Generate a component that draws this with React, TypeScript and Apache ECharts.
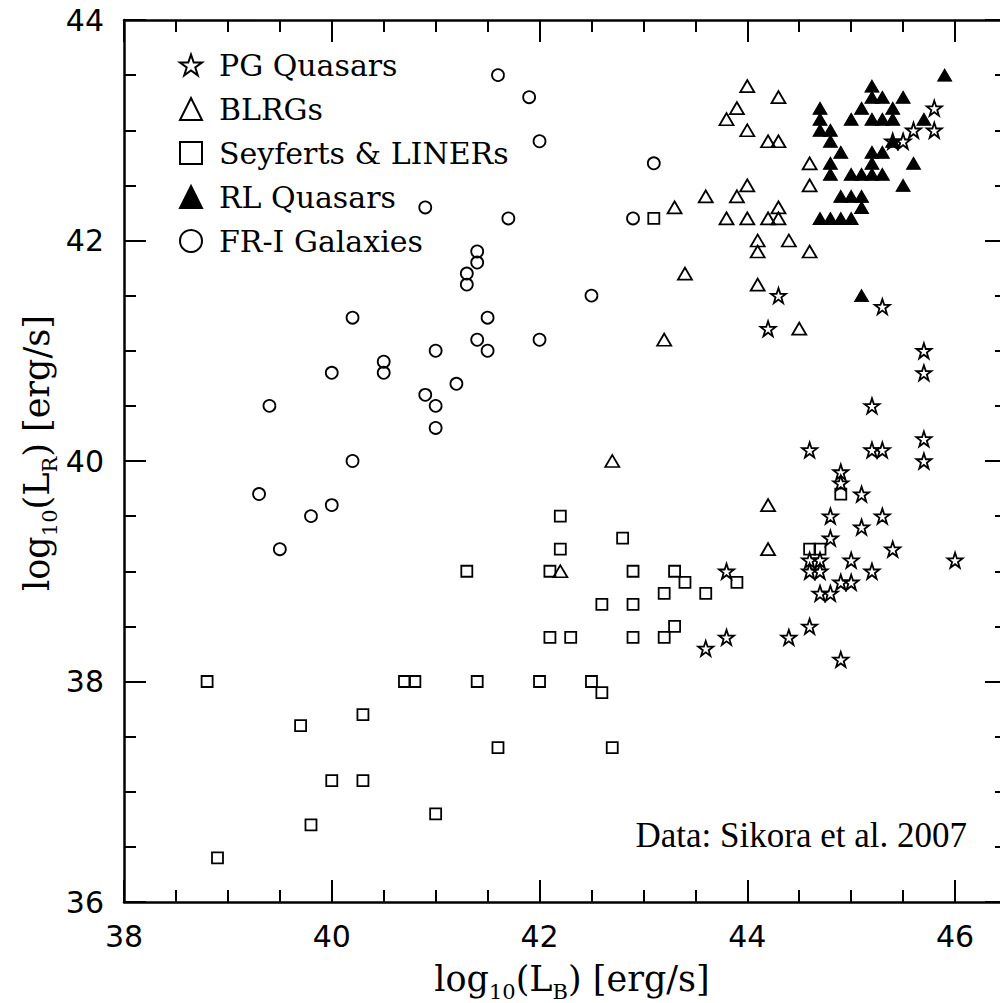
import { useEffect, useRef } from "react";
import * as echarts from "echarts";

// ---- data (log10 L_B, log10 L_R) ----
const pgQuasars: [number, number][] = [
  [45.8, 43.2], [45.6, 43.0], [45.8, 43.0], [45.5, 42.9], [45.4, 42.9],
  [44.3, 41.5], [45.3, 41.4], [44.2, 41.2], [45.7, 41.0], [45.7, 40.8],
  [45.2, 40.5], [45.7, 40.2], [45.7, 40.0], [44.6, 40.1], [45.2, 40.1],
  [45.3, 40.1], [44.9, 39.9], [44.9, 39.8], [45.1, 39.7], [44.8, 39.5],
  [45.3, 39.5], [45.1, 39.4], [44.8, 39.3], [45.4, 39.2], [46.0, 39.1],
  [44.6, 39.1], [44.7, 39.1], [45.0, 39.1], [44.6, 39.0], [44.7, 39.0],
  [45.2, 39.0], [44.9, 38.9], [45.0, 38.9], [44.7, 38.8], [44.8, 38.8],
  [44.6, 38.5], [44.4, 38.4], [44.9, 38.2], [43.8, 39.0], [43.8, 38.4],
  [43.6, 38.3],
];

const blrgs: [number, number][] = [
  [44.0, 43.4], [43.9, 43.2], [43.8, 43.1], [44.0, 43.0], [44.3, 43.3],
  [44.2, 42.9], [44.3, 42.9], [44.0, 42.5], [43.6, 42.4], [43.9, 42.4],
  [43.3, 42.3], [43.8, 42.2], [44.0, 42.2], [44.2, 42.2], [44.3, 42.2],
  [44.3, 42.3], [44.1, 42.0], [44.1, 41.9], [43.4, 41.7], [44.1, 41.6],
  [43.2, 41.1], [42.7, 40.0], [44.6, 42.7], [44.6, 42.5], [44.4, 42.0],
  [44.6, 41.9], [44.5, 41.2], [44.2, 39.6], [44.2, 39.2], [42.2, 39.0],
];

const seyfertsLiners: [number, number][] = [
  [38.8, 38.0], [38.9, 36.4], [39.7, 37.6], [39.8, 36.7], [40.0, 37.1],
  [40.3, 37.1], [40.3, 37.7], [40.7, 38.0], [40.8, 38.0], [41.0, 36.8],
  [41.3, 39.0], [42.2, 39.5], [42.2, 39.2], [42.1, 39.0], [42.8, 39.3],
  [42.9, 39.0], [43.3, 39.0], [43.4, 38.9], [43.2, 38.8], [43.6, 38.8],
  [43.9, 38.9], [42.6, 38.7], [42.9, 38.7], [42.1, 38.4], [42.3, 38.4],
  [42.9, 38.4], [43.2, 38.4], [43.3, 38.5], [41.4, 38.0], [42.0, 38.0],
  [42.5, 38.0], [42.6, 37.9], [41.6, 37.4], [42.7, 37.4], [43.1, 42.2],
  [44.9, 39.7], [44.6, 39.2], [44.7, 39.2],
];

const rlQuasars: [number, number][] = [
  [45.9, 43.5], [45.2, 43.4], [45.2, 43.3], [45.3, 43.3], [45.5, 43.3],
  [44.7, 43.2], [45.1, 43.2], [45.4, 43.2], [44.7, 43.1], [45.0, 43.1],
  [45.2, 43.1], [45.3, 43.1], [45.4, 43.1], [45.7, 43.1], [44.7, 43.0],
  [44.8, 43.0], [44.8, 42.9], [45.4, 42.9], [44.9, 42.8], [45.2, 42.8],
  [45.3, 42.8], [44.8, 42.7], [45.2, 42.7], [45.6, 42.7], [44.8, 42.6],
  [45.0, 42.6], [45.1, 42.6], [45.2, 42.6], [45.3, 42.6], [45.5, 42.5],
  [44.9, 42.4], [45.0, 42.4], [45.1, 42.4], [45.1, 42.3], [44.7, 42.2],
  [44.8, 42.2], [44.9, 42.2], [45.0, 42.2], [45.1, 41.5],
];

const frIGalaxies: [number, number][] = [
  [41.6, 43.5], [41.9, 43.3], [42.0, 42.9], [43.1, 42.7], [40.9, 42.3],
  [41.7, 42.2], [42.9, 42.2], [41.4, 41.9], [41.4, 41.8], [41.3, 41.7],
  [41.3, 41.6], [42.5, 41.5], [41.5, 41.3], [40.2, 41.3], [41.4, 41.1],
  [41.5, 41.0], [42.0, 41.1], [41.2, 40.7], [40.0, 40.8], [40.5, 40.9],
  [40.5, 40.8], [41.0, 41.0], [40.9, 40.6], [41.0, 40.5], [41.0, 40.3],
  [39.4, 40.5], [40.2, 40.0], [39.3, 39.7], [39.8, 39.5], [40.0, 39.6],
  [39.5, 39.2],
];

const seriesNames = ["PG Quasars", "BLRGs", "Seyferts & LINERs", "RL Quasars", "FR-I Galaxies"];

const xTickLabels = [38, 40, 42, 44, 46];
const yTickLabels = [36, 38, 40, 42, 44];
const xRange = [38, 46.5];
const yRange = [36, 44];

const STAR =
  "path://M50,2 L61.8,36.2 L97.6,36.2 L68.6,57.3 L79.4,91.5 L50,70.4 L20.6,91.5 L31.4,57.3 L2.4,36.2 L38.2,36.2 Z";

const openStyle = { color: "rgba(0,0,0,0)", borderColor: "#000", borderWidth: 1.8, opacity: 1 };

export default function App() {
  const ref = useRef<HTMLDivElement>(null);

  useEffect(() => {
    if (!ref.current) return;
    const chart = echarts.init(ref.current, null, { renderer: "svg" });

    const lineStyle = { color: "#000", width: 2.5 };
    const tickStyle = { color: "#000", width: 2 };

    const makeX = (position: string, major: boolean, labels: boolean) => ({
      type: "value",
      position,
      min: xRange[0],
      max: xRange[1],
      interval: major ? 2 : 0.5,
      axisLine: { show: major, onZero: false, lineStyle },
      axisTick: { show: true, inside: true, length: major ? 22 : 12, lineStyle: tickStyle },
      axisLabel: {
        show: labels,
        margin: 19,
        color: "#000",
        fontSize: 30,
        fontFamily: "DejaVu Sans",
        formatter: (v: number) => (xTickLabels.includes(v) ? String(v) : ""),
      },
      splitLine: { show: false },
    });

    const makeY = (position: string, major: boolean, labels: boolean) => ({
      type: "value",
      position,
      min: yRange[0],
      max: yRange[1],
      interval: major ? 2 : 0.5,
      axisLine: { show: major, onZero: false, lineStyle },
      axisTick: { show: true, inside: true, length: major ? 22 : 12, lineStyle: tickStyle },
      axisLabel: {
        show: labels,
        margin: 20,
        color: "#000",
        fontSize: 30,
        fontFamily: "DejaVu Sans",
        formatter: (v: number) => (yTickLabels.includes(v) ? String(v) : ""),
      },
      splitLine: { show: false },
    });

    const mainFont = { fontSize: 35, fontFamily: "DejaVu Serif", fill: "#000", lineHeight: 46, verticalAlign: "middle" };
    const subFont = { fontSize: 21, fontFamily: "DejaVu Serif", fill: "#000", lineHeight: 23, verticalAlign: "bottom" };

    chart.setOption({
      animation: false,
      backgroundColor: "#fff",
      grid: { left: 124, top: 20, width: 883, height: 882, containLabel: false, outerBoundsMode: "none" },
      xAxis: [
        makeX("bottom", true, true),
        makeX("bottom", false, false),
        makeX("top", true, false),
        makeX("top", false, false),
      ],
      yAxis: [
        makeY("left", true, true),
        makeY("left", false, false),
        makeY("right", true, false),
        makeY("right", false, false),
      ],
      legend: {
        orient: "vertical",
        left: 179,
        top: 50,
        padding: 0,
        itemWidth: 22,
        itemHeight: 22,
        itemGap: 14,
        selectedMode: false,
        data: seriesNames,
        textStyle: {
          fontSize: 30,
          fontFamily: "DejaVu Serif",
          color: "#000",
          padding: [0, 0, 0, 12],
        },
      },
      series: [
        {
          type: "scatter",
          name: seriesNames[0],
          data: pgQuasars,
          symbol: STAR,
          symbolSize: 15,
          itemStyle: openStyle,
        },
        {
          type: "scatter",
          name: seriesNames[1],
          data: blrgs,
          symbol: "triangle",
          symbolSize: [14, 12],
          itemStyle: openStyle,
        },
        {
          type: "scatter",
          name: seriesNames[2],
          data: seyfertsLiners,
          symbol: "rect",
          symbolSize: 11,
          itemStyle: openStyle,
        },
        {
          type: "scatter",
          name: seriesNames[3],
          data: rlQuasars,
          symbol: "triangle",
          symbolSize: [14, 12],
          itemStyle: { color: "#000", borderColor: "#000", borderWidth: 1, opacity: 1 },
        },
        {
          type: "scatter",
          name: seriesNames[4],
          data: frIGalaxies,
          symbol: "circle",
          symbolSize: 12,
          itemStyle: openStyle,
        },
      ],
      graphic: [
        {
          type: "text",
          x: 572,
          y: 979,
          style: {
            text: "{m|log}{s|10}{m|(L}{s|B}{m|) [erg/s]}",
            align: "center",
            verticalAlign: "middle",
            rich: { m: mainFont, s: subFont },
          },
        },
        {
          type: "text",
          x: 37,
          y: 453,
          rotation: Math.PI / 2,
          style: {
            text: "{m|log}{s|10}{m|(L}{s|R}{m|) [erg/s]}",
            align: "center",
            verticalAlign: "middle",
            rich: { m: mainFont, s: subFont },
          },
        },
        {
          type: "text",
          x: 967,
          y: 835,
          style: {
            text: "Data: Sikora et al. 2007",
            fontSize: 35,
            fontFamily: "Liberation Serif",
            fill: "#000",
            align: "right",
            verticalAlign: "middle",
          },
        },
      ],
    });

    return () => chart.dispose();
  }, []);

  return (
    <div
      ref={ref}
      style={{ position: "fixed", left: 0, top: 0, width: 1000, height: 1003, background: "#fff" }}
    />
  );
}
